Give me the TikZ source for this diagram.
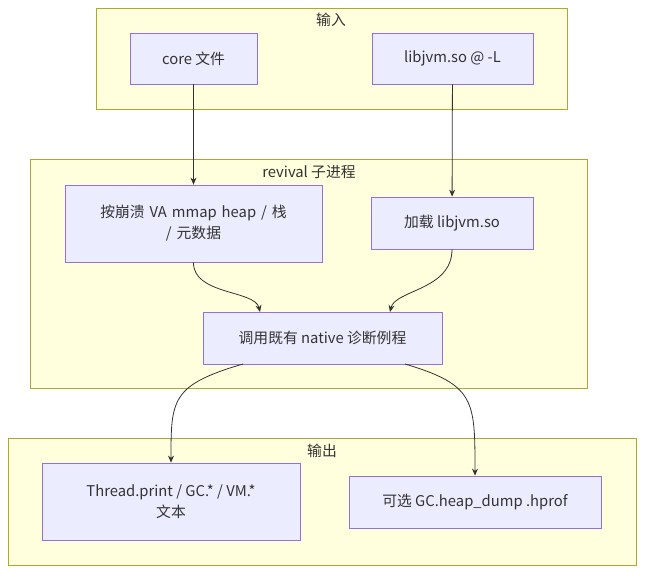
\documentclass[tikz,border=0pt]{standalone}
\usepackage{fontspec}
\setmainfont{Noto Sans CJK SC}
\usetikzlibrary{arrows.meta}
\definecolor{clfill}{HTML}{FFFFDE}
\definecolor{cldraw}{HTML}{AAAA33}
\definecolor{ndfill}{HTML}{ECECFF}
\definecolor{nddraw}{HTML}{9370DB}
\definecolor{edge}{HTML}{333333}
\tikzset{
  cluster/.style = {draw=cldraw, fill=clfill, line width=0.8pt},
  box/.style = {rectangle, draw=nddraw, fill=ndfill, line width=0.8pt, text centered, inner sep=0pt, font=\fontsize{14.8}{21}\selectfont, text=edge},
  title/.style = {font=\fontsize{14.8}{17}\selectfont, text=edge},
  arrow/.style = {draw=edge, line width=0.8pt, -{Stealth[length=7pt,width=6pt]}}
}
\begin{document}
\begin{tikzpicture}[x=1pt, y=-1pt]
  \useasboundingbox (0,0) rectangle (652,580);

  % clusters
  \draw [cluster] (96,8) rectangle (567,109);
  \node [title] (tin) at (331,20) {输入};
  \draw [cluster] (30,159) rectangle (587,388);
  \node [title] (trev) at (309,172) {revival 子进程};
  \draw [cluster] (8,438) rectangle (636,565);
  \node [title] (tout) at (322,451) {输出};

  % nodes
  \node (core) [box, minimum width=127pt, minimum height=51pt] at (193.5,58.5) {core 文件};
  \node (lib) [box, minimum width=161pt, minimum height=51pt] at (452.5,58.5) {libjvm.so @ -L};
  \node (mmap) [box, minimum width=257pt, minimum height=77pt, text width=235pt, align=center] at (193.5,223.5) {按崩溃 VA mmap heap / 栈\\ / 元数据};
  \node (load) [box, minimum width=162pt, minimum height=52pt] at (452,223) {加载 libjvm.so};
  \node (call) [box, minimum width=239pt, minimum height=52pt] at (322.5,338) {调用既有 native 诊断例程};
  \node (text) [box, minimum width=258pt, minimum height=77pt, align=center] at (171,501.5) {Thread.print / GC.* / VM.*\\文本};
  \node (dump) [box, minimum width=252pt, minimum height=52pt] at (475,502) {可选 GC.heap\_dump .hprof};

  % edges
  \draw [arrow] (core) -- (mmap);
  \draw [arrow] (lib) -- (load);
  \draw [arrow] (mmap.south) .. controls (193,295) and (255,290) .. (260,312);
  \draw [arrow] (load.south) .. controls (452,290) and (395,290) .. (390,312);
  \draw [arrow] (243,364) .. controls (171,385) and (171,400) .. (text.north);
  \draw [arrow] (405,364) .. controls (475,385) and (475,400) .. (dump.north);
\end{tikzpicture}
\end{document}
